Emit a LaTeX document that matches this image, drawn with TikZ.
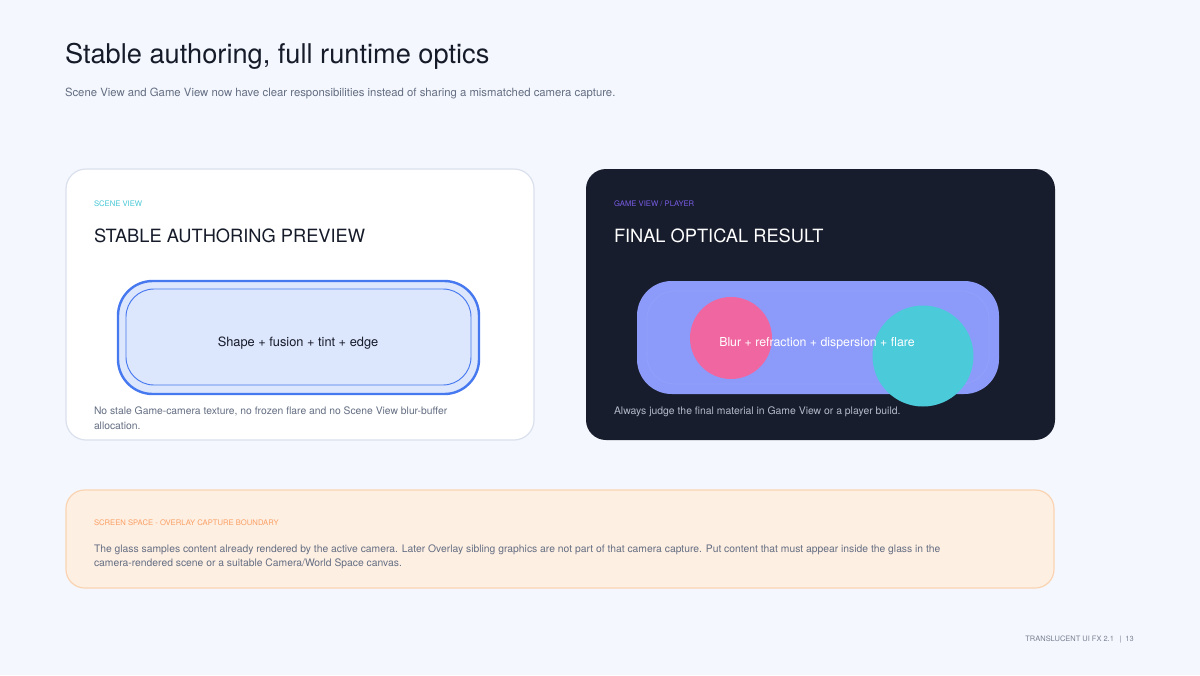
\documentclass[tikz,border=0pt]{standalone}
\usepackage{fontspec}
\setmainfont{TeX Gyre Heros}
\definecolor{bg}{RGB}{244,247,253}
\definecolor{ink}{RGB}{22,27,42}
\definecolor{muted}{RGB}{100,110,130}
\definecolor{cardline}{RGB}{218,224,236}
\definecolor{navy}{RGB}{24,29,45}
\definecolor{cyanlbl}{RGB}{72,200,214}
\definecolor{purplelbl}{RGB}{120,92,230}
\definecolor{glassfill}{RGB}{220,230,252}
\definecolor{glassline}{RGB}{70,120,240}
\definecolor{violet}{RGB}{140,155,250}
\definecolor{violetline}{RGB}{146,161,251}
\definecolor{pinkc}{RGB}{240,102,160}
\definecolor{cyanc}{RGB}{75,202,218}
\definecolor{lightmuted}{RGB}{180,186,202}
\definecolor{peach}{RGB}{254,239,227}
\definecolor{peachline}{RGB}{250,212,178}
\definecolor{orangelbl}{RGB}{250,160,100}
\definecolor{footer}{RGB}{120,128,145}
\tikzset{
  txt/.style={anchor=base west, inner sep=0pt, outer sep=0pt},
  tag/.style={txt, font=\fontsize{5.75}{7}\selectfont},
  head/.style={txt, font=\fontsize{13.7}{16}\selectfont},
  body/.style={txt, align=left},
}
\begin{document}
\begin{tikzpicture}[x=0.75pt,y=-0.75pt]
\fill[bg] (0,0) rectangle (1200,675);
\useasboundingbox (0,0) rectangle (1200,675);

\node[txt, text=ink, font=\fontsize{20.4}{25}\selectfont] (title) at (65,63) {Stable authoring, full runtime optics};
\node[txt, text=muted, font=\fontsize{8.5}{11}\selectfont] (sub) at (65,96) {Scene View and Game View now have clear responsibilities instead of sharing a mismatched camera capture.};

% left card
\draw[cardline, fill=white, line width=0.9pt, rounded corners=15pt] (66,169) rectangle (534,440);
\node[tag, text=cyanlbl] (sv) at (94,206) {SCENE VIEW};
\node[head, text=ink] (svh) at (94,242) {STABLE AUTHORING PREVIEW};
\draw[glassline, fill=glassfill, line width=1.8pt, rounded corners=26pt] (118,281) rectangle (479,394);
\draw[glassline, line width=0.7pt, rounded corners=21pt] (126,289) rectangle (471,385);
\node[anchor=center, inner sep=0pt, text=ink, font=\fontsize{9.6}{11}\selectfont] (svt) at (298,343) {Shape + fusion + tint + edge};
\node[body, text=muted, font=\fontsize{7.75}{11.25}\selectfont] (svb) at (94,429) {No stale Game-camera texture, no frozen flare and no Scene View blur-buffer\\allocation.};

% right card
\fill[navy, rounded corners=15pt] (586,169) rectangle (1055,440);
\node[tag, text=purplelbl] (gv) at (614,206) {GAME VIEW / PLAYER};
\node[head, text=white] (gvh) at (614,242) {FINAL OPTICAL RESULT};
\fill[violet, rounded corners=26pt] (637,281) rectangle (999,394);
\draw[violetline, line width=0.5pt, rounded corners=21pt] (647,291) rectangle (989,384);
\fill[pinkc] (731,338) circle[radius=41];
\fill[cyanc] (923,356) circle[radius=50.5];
\node[anchor=center, inner sep=0pt, text=white, font=\fontsize{9.25}{11}\selectfont] (gvt) at (817,343) {Blur + refraction + dispersion + flare};
\node[body, text=lightmuted, font=\fontsize{7.8}{11.25}\selectfont] (gvb) at (614,414) {Always judge the final material in Game View or a player build.};

% bottom card
\draw[peachline, fill=peach, line width=0.9pt, rounded corners=14pt] (66,490) rectangle (1054,588);
\node[tag, text=orangelbl] (ss) at (94,525) {SCREEN SPACE - OVERLAY CAPTURE BOUNDARY};
\node[body, text=muted, font=\fontsize{7.75}{10.5}\selectfont] (ssb) at (94,566) {The glass samples content already rendered by the active camera. Later Overlay sibling graphics are not part of that camera capture. Put content that must appear inside the glass in the\\camera-rendered scene or a suitable Camera/World Space canvas.};

\node[anchor=base east, inner sep=0pt, text=footer, font=\fontsize{5.6}{7}\selectfont] (ft) at (1134,641) {TRANSLUCENT UI FX 2.1 \enspace|\enspace 13};
\end{tikzpicture}
\end{document}
